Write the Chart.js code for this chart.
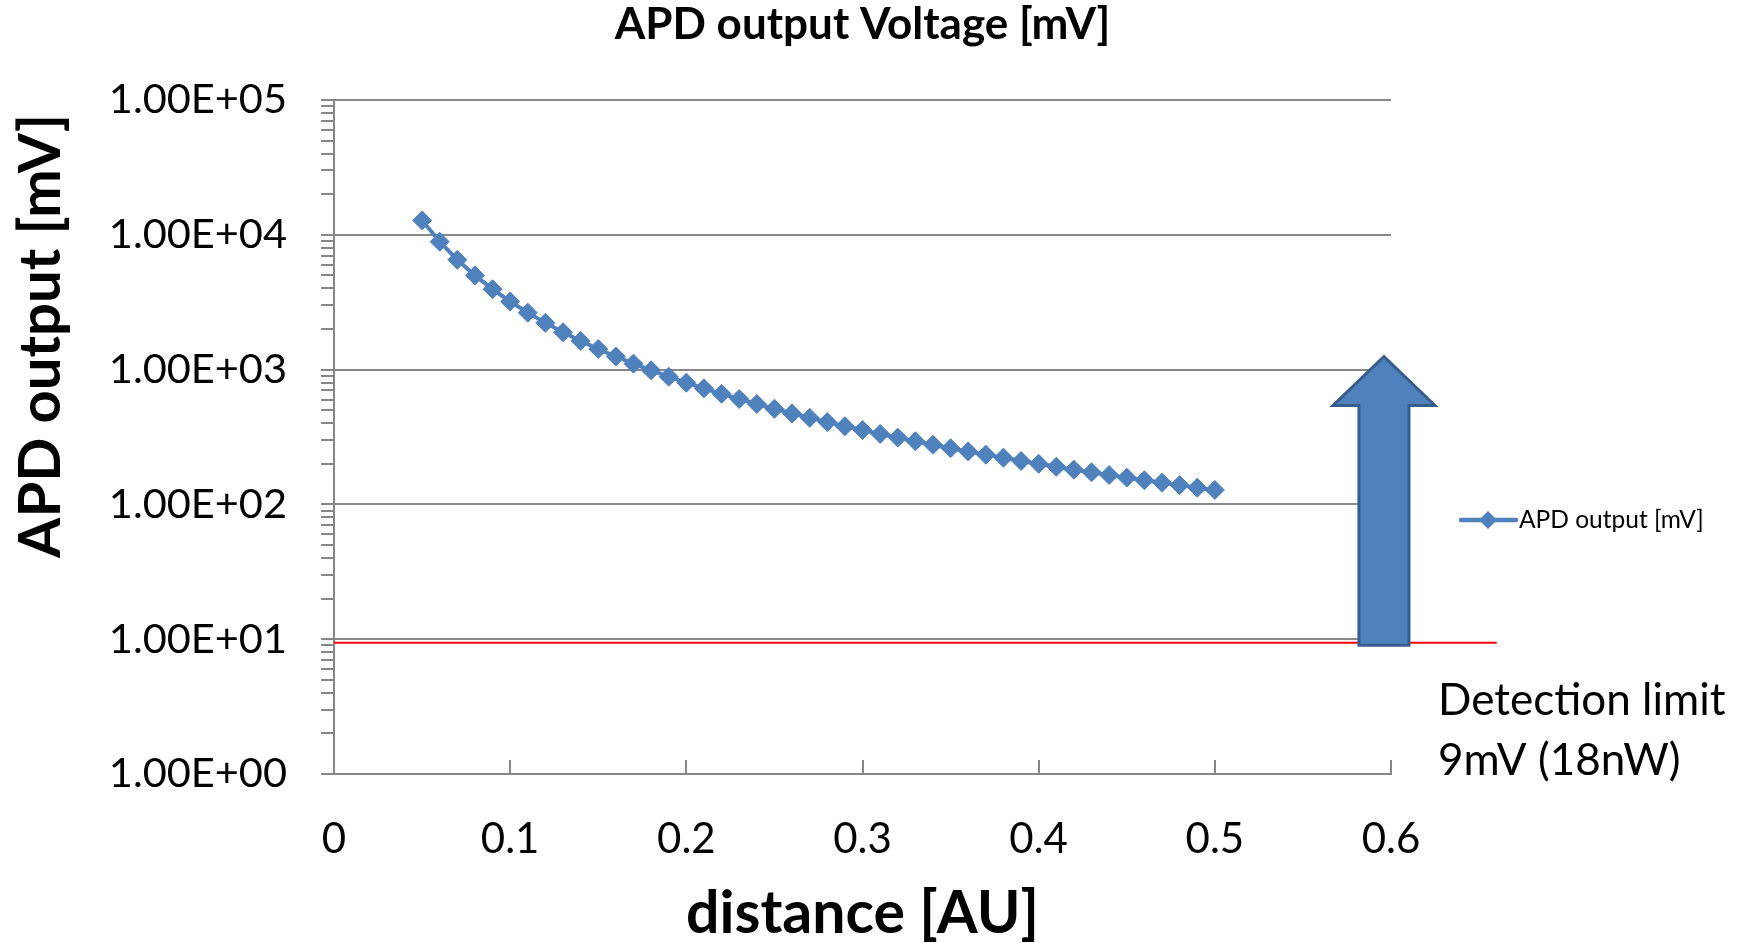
<!DOCTYPE html>
<html>
<head>
<meta charset="utf-8">
<title>APD output Voltage [mV]</title>
<script src="https://cdn.jsdelivr.net/npm/chart.js@4.4.1/dist/chart.umd.min.js"></script>
<style>
  html, body { margin: 0; padding: 0; background: #fff; }
</style>
</head>
<body>
<canvas id="apdChart" width="1746" height="943"></canvas>
<script>
// distance [AU] and APD output [mV]
const distance = [0.05, 0.06, 0.07, 0.08, 0.09, 0.10, 0.11, 0.12, 0.13, 0.14,
                  0.15, 0.16, 0.17, 0.18, 0.19, 0.20, 0.21, 0.22, 0.23, 0.24,
                  0.25, 0.26, 0.27, 0.28, 0.29, 0.30, 0.31, 0.32, 0.33, 0.34,
                  0.35, 0.36, 0.37, 0.38, 0.39, 0.40, 0.41, 0.42, 0.43, 0.44,
                  0.45, 0.46, 0.47, 0.48, 0.49, 0.50];
const apdOutput = [12800, 8890, 6530, 5000, 3950, 3200, 2645, 2222, 1893, 1633,
                   1422, 1250, 1107, 988, 886, 800, 726, 661, 605, 556,
                   512, 473, 439, 408, 380, 356, 333, 313, 294, 277,
                   261, 247, 234, 222, 210, 200, 190, 181, 173, 165,
                   158, 151, 145, 139, 133, 128];

// detection limit line (9 mV), runs a little past the plot
const limitX = [0, 0.66];
const limitY = [9.4, 9.4];

// arrow from the detection limit upwards
const arrowX = 0.596;
const arrowFrom = 9;
const arrowTo = 1250;

const yTickLabels = ['1.00E+00', '1.00E+01', '1.00E+02', '1.00E+03', '1.00E+04', '1.00E+05'];
const xTickLabels = ['0', '0.1', '0.2', '0.3', '0.4', '0.5', '0.6'];

const blue = '#4F81BD';
const axisGray = '#878787';
const font = 'Lato';

function isDecade(v) {
    const l = Math.log10(v);
    return Math.abs(l - Math.round(l)) < 1e-9;
}

const extras = {
    id: 'extras',
    afterDatasetsDraw(chart) {
        const { ctx, chartArea, scales: { x, y } } = chart;
        ctx.save();
        // short tick marks pointing up into the plot
        ctx.strokeStyle = axisGray;
        ctx.lineWidth = 2;
        x.ticks.forEach(t => {
            const px = Math.round(x.getPixelForValue(t.value));
            ctx.beginPath();
            ctx.moveTo(px, chartArea.bottom);
            ctx.lineTo(px, chartArea.bottom - 14);
            ctx.stroke();
        });

        // block arrow
        const ax = x.getPixelForValue(arrowX);
        const yBase = y.getPixelForValue(arrowFrom);
        const yTip = y.getPixelForValue(arrowTo);
        const shaft = 25, head = 51, headH = 49;
        ctx.beginPath();
        ctx.moveTo(ax - shaft, yBase);
        ctx.lineTo(ax - shaft, yTip + headH);
        ctx.lineTo(ax - head, yTip + headH);
        ctx.lineTo(ax, yTip);
        ctx.lineTo(ax + head, yTip + headH);
        ctx.lineTo(ax + shaft, yTip + headH);
        ctx.lineTo(ax + shaft, yBase);
        ctx.closePath();
        ctx.fillStyle = blue;
        ctx.fill();
        ctx.strokeStyle = '#385D8A';
        ctx.lineWidth = 3;
        ctx.stroke();
        ctx.restore();
    },
    afterDraw(chart) {
        const { ctx, chartArea } = chart;
        ctx.save();
        // legend entry
        const lx = chartArea.right + 70, ly = 520;
        ctx.strokeStyle = blue;
        ctx.lineWidth = 4.5;
        ctx.lineCap = 'round';
        ctx.beginPath();
        ctx.moveTo(lx, ly);
        ctx.lineTo(lx + 55, ly);
        ctx.stroke();
        ctx.fillStyle = blue;
        ctx.beginPath();
        ctx.moveTo(lx + 27, ly - 9);
        ctx.lineTo(lx + 36, ly);
        ctx.lineTo(lx + 27, ly + 9);
        ctx.lineTo(lx + 18, ly);
        ctx.closePath();
        ctx.fill();
        ctx.fillStyle = '#000';
        ctx.font = '24.5px ' + font;
        ctx.textBaseline = 'middle';
        ctx.fillText(chart.data.datasets[0].label, lx + 58, ly);

        // detection limit note
        ctx.font = '44px ' + font;
        ctx.textBaseline = 'alphabetic';
        ctx.fillText('Detection limit', chartArea.right + 47, 715);
        ctx.fillText('9mV (18nW)', chartArea.right + 47, 775);
        ctx.restore();
    }
};

new Chart('apdChart', {
    type: 'scatter',
    data: {
        datasets: [{
            label: 'APD output [mV]',
            data: distance.map((d, i) => ({ x: d, y: apdOutput[i] })),
            showLine: true,
            borderColor: blue,
            backgroundColor: blue,
            borderWidth: 4,
            pointStyle: 'rectRot',
            pointRadius: 9.5,
            pointBorderWidth: 1,
            pointBackgroundColor: blue,
            pointBorderColor: blue
        }, {
            label: 'Detection limit',
            data: limitX.map((x, i) => ({ x: x, y: limitY[i] })),
            showLine: true,
            borderColor: '#FF0000',
            borderWidth: 2,
            pointRadius: 0,
            clip: false
        }]
    },
    options: {
        responsive: false,
        animation: false,
        layout: { padding: { left: 0, right: 355, top: 0, bottom: 0 } },
        plugins: {
            legend: { display: false },
            tooltip: { enabled: false },
            title: {
                display: true,
                fullSize: false,
                text: 'APD output Voltage [mV]',
                color: '#000',
                font: { family: font, size: 44, weight: 'bold', lineHeight: 1 },
                padding: { top: 3, bottom: 53 }
            }
        },
        scales: {
            x: {
                type: 'linear',
                min: 0,
                max: 0.6,
                afterFit: s => { s.height = 169; },
                ticks: {
                    stepSize: 0.1,
                    color: '#000',
                    padding: 40,
                    font: { family: font, size: 42 },
                    callback: (v, i) => xTickLabels[i]
                },
                grid: { drawOnChartArea: false, drawTicks: false },
                border: { color: axisGray, width: 2 },
                title: {
                    display: true,
                    text: 'distance [AU]',
                    color: '#000',
                    font: { family: font, size: 59, weight: 'bold', lineHeight: 1 },
                    padding: { top: 0, bottom: 0 }
                }
            },
            y: {
                type: 'logarithmic',
                min: 1,
                max: 100000,
                afterFit: s => { s.width = 334; },
                afterBuildTicks: s => {
                    s.ticks = s.ticks.filter(t => {
                        const m = t.value / Math.pow(10, Math.floor(Math.log10(t.value) + 1e-9));
                        return Math.abs(m - Math.round(m)) < 1e-6;
                    });
                },
                ticks: {
                    autoSkip: false,
                    color: '#000',
                    padding: 34,
                    font: { family: font, size: 41.5 },
                    callback: v => isDecade(v) ? yTickLabels[Math.round(Math.log10(v))] : ''
                },
                grid: {
                    color: c => (c.tick && isDecade(c.tick.value)) ? axisGray : 'rgba(0,0,0,0)',
                    tickColor: axisGray,
                    tickLength: 13,
                    lineWidth: 2
                },
                border: { color: axisGray, width: 2 },
                title: {
                    display: true,
                    align: 'end',
                    text: 'APD output [mV] ',
                    color: '#000',
                    font: { family: font, size: 58, weight: 'bold', lineHeight: 1 },
                    padding: { top: 12, bottom: 0 }
                }
            }
        }
    },
    plugins: [extras]
});
</script>
</body>
</html>
